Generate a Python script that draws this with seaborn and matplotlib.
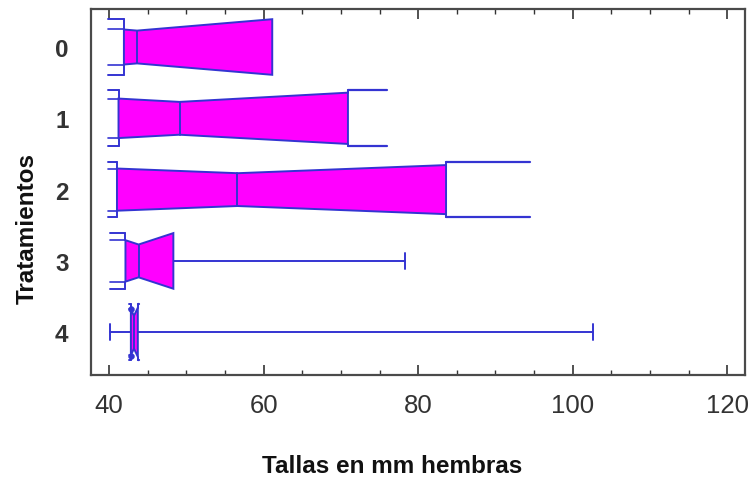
import numpy as np
import matplotlib
matplotlib.use("Agg")
import matplotlib.pyplot as plt
import seaborn as sns
import pandas as pd

# ---- data (mm) ----
groups = ["0", "1", "2", "3", "4"]
q1 = [41.9, 41.2, 41.0, 42.1, 42.8]
med = [43.6, 49.1, 56.6, 43.8, 43.2]
q3 = [61.1, 70.9, 83.6, 48.3, 43.7]
notch_lo = [39.9, 39.9, 39.9, 40.1, 42.6]
notch_hi = [61.1, 76.0, 94.5, 48.3, 43.9]
whis_lo = [41.9, 41.2, 41.0, 42.1, 40.1]
whis_hi = [61.1, 70.9, 83.6, 78.3, 102.6]

xticks = [40, 60, 80, 100, 120]

sns.set_theme(style="white")
plt.rcParams["font.family"] = ["Liberation Sans", "DejaVu Sans"]

FILL = "#FF00FF"
EDGE = "#3434D2"
FULL = 0.39
NARROW = 0.59 * FULL

fig = plt.figure(figsize=(7.52, 4.81), dpi=100)
ax = fig.add_axes([90.7 / 752, 1 - 376 / 481, (745 - 90.7) / 752, 366 / 481])


def half(x, lo, m, hi):
    d = max(m - lo, hi - m)
    if d <= 0:
        return NARROW
    f = np.clip(abs(x - m) / d, 0, 1)
    return NARROW + (FULL - NARROW) * f


for i, g in enumerate(groups):
    a, m, b = q1[i], med[i], q3[i]
    lo, hi = notch_lo[i], notch_hi[i]
    ha, hm, hb = half(a, lo, m, hi), half(m, lo, m, hi), half(b, lo, m, hi)
    xs = [a, m, b, b, m, a]
    ys = [i - ha, i - hm, i - hb, i + hb, i + hm, i + ha]
    ax.fill(xs, ys, facecolor=FILL, edgecolor=EDGE, lw=1.4, zorder=3)
    ax.plot([m, m], [i - hm, i + hm], color=EDGE, lw=1.4, zorder=4)
    # notch brackets outside the box
    if lo < a - 0.05:
        for s in (-1, 1):
            ax.plot([lo, a], [i + s * FULL, i + s * FULL], color=EDGE, lw=1.4, zorder=4)
            ax.plot([lo, a], [i + s * ha, i + s * ha], color=EDGE, lw=1.2, zorder=4)
            ax.plot([a, a], [i + s * ha, i + s * FULL], color=EDGE, lw=1.4, zorder=4)
    if hi > b + 0.05:
        for s in (-1, 1):
            ax.plot([b, hi], [i + s * FULL, i + s * FULL], color=EDGE, lw=1.6, zorder=4)
            ax.plot([b, b], [i + s * hb, i + s * FULL], color=EDGE, lw=1.4, zorder=4)
    # whiskers
    if whis_lo[i] < a - 0.05:
        ax.plot([whis_lo[i], a], [i, i], color=EDGE, lw=1.4, zorder=2)
        ax.plot([whis_lo[i]] * 2, [i - 0.11, i + 0.11], color=EDGE, lw=1.4, zorder=2)
    if whis_hi[i] > b + 0.05:
        ax.plot([b, whis_hi[i]], [i, i], color=EDGE, lw=1.4, zorder=2)
        ax.plot([whis_hi[i]] * 2, [i - 0.11, i + 0.11], color=EDGE, lw=1.4, zorder=2)

# small markers at the notch ends of the narrowest box
dots = pd.DataFrame({"x": [q1[4], q1[4]], "y": [4 - 0.33, 4 + 0.33]})
sns.scatterplot(data=dots, x="x", y="y", ax=ax, color=EDGE, s=18, zorder=5,
                edgecolor=EDGE, legend=False)

ax.set_xlim(37.6, 122.3)
ax.set_ylim(4.60, -0.533)
ax.set_xticks(xticks)
ax.set_xticks(np.arange(40, 121, 5), minor=True)
ax.set_xticklabels([str(t) for t in xticks], fontsize=18.5, color="#333333")
ax.set_yticks(range(len(groups)))
ax.set_yticklabels(groups, fontsize=17.5, fontweight="bold", color="#333333")
ax.tick_params(axis="x", which="major", direction="in", length=7, width=1.2,
               top=True, bottom=True, color="#333333", pad=13)
ax.tick_params(axis="x", which="minor", direction="in", length=3.5, width=1,
               top=True, bottom=True, color="#333333")
ax.tick_params(axis="y", which="both", length=0, pad=16)

for sp in ax.spines.values():
    sp.set_color("#4a4a4a")
    sp.set_linewidth(1.6)
    sp.set_visible(True)

ax.set_xlabel("")
ax.set_ylabel("")
fig.text(392 / 752, 1 - 467 / 481, "Tallas en mm hembras", fontsize=17.5,
         fontweight="bold", ha="center", va="center", color="#111111")
fig.text(27 / 752, 1 - 229 / 481, "Tratamientos", fontsize=17.5,
         fontweight="bold", ha="center", va="center", rotation=90, color="#111111")

fig.savefig("out.png", dpi=100)
